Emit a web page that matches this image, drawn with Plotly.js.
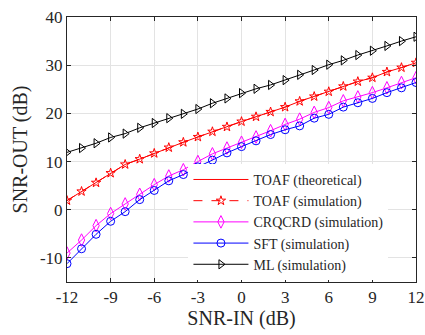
<!DOCTYPE html>
<html>
<head>
<meta charset="utf-8">
<script src="https://cdn.plot.ly/plotly-3.0.1.min.js"></script>
<style>html,body{margin:0;padding:0;background:#fff;}#chart{width:425px;height:335px;}</style>
</head>
<body>
<div id="chart"></div>
<script>
const snrIn = [-12,-11,-10,-9,-8,-7,-6,-5,-4,-3,-2,-1,0,1,2,3,4,5,6,7,8,9,10,11,12];
const toafTheoretical = [1.9,3.8,5.6,7.6,9.4,10.5,11.7,12.9,14.0,15.1,16.2,17.2,18.3,19.3,20.3,21.3,22.5,23.5,24.5,25.6,26.6,27.4,28.6,29.5,30.5];
const toafSimulation = [1.9,3.8,5.6,7.6,9.4,10.5,11.7,12.9,14.0,15.1,16.2,17.2,18.3,19.3,20.3,21.3,22.5,23.5,24.5,25.6,26.6,27.4,28.6,29.5,30.5];
const crqcrd = [-9.0,-6.3,-3.3,-0.8,1.2,3.2,5.2,7.0,8.3,10.0,11.6,12.8,14.0,15.1,16.4,17.7,18.8,20.2,21.2,22.6,23.4,24.3,25.3,26.4,27.4];
const sft = [-11.2,-8.1,-5.1,-2.4,-0.4,2.1,4.0,6.0,7.3,8.9,10.3,11.8,13.1,14.3,15.6,16.6,17.4,19.0,19.8,21.3,22.2,23.1,24.3,25.3,26.4];
const ml = [11.9,12.8,13.8,15.0,15.8,17.0,18.0,19.0,19.9,20.9,22.1,23.1,24.2,25.1,25.9,26.9,28.0,29.0,30.1,31.0,32.1,33.0,34.0,35.0,35.9];
const seriesNames = ['TOAF (theoretical)','TOAF (simulation)','CRQCRD (simulation)','SFT (simulation)','ML (simulation)'];
const xTicks = [-12,-9,-6,-3,0,3,6,9,12];
const yTicks = [-10,0,10,20,30,40];

const traces = [
  {x: snrIn, y: toafTheoretical, name: seriesNames[0], mode: 'lines',
   line: {color: '#ff0000', width: 1}},
  {x: snrIn, y: toafSimulation, name: seriesNames[1], mode: 'lines+markers',
   line: {color: '#ff0000', width: 1, dash: 'dash'},
   marker: {symbol: 'star-open', size: 7, color: '#ff0000', line: {width: 1, color: '#ff0000'}}},
  {x: snrIn, y: crqcrd, name: seriesNames[2], mode: 'lines+markers',
   line: {color: '#ff00ff', width: 1},
   marker: {symbol: 'diamond-tall-open', size: 9, color: '#ff00ff', line: {width: 1, color: '#ff00ff'}}},
  {x: snrIn, y: sft, name: seriesNames[3], mode: 'lines+markers',
   line: {color: '#0000ff', width: 1},
   marker: {symbol: 'circle-open', size: 8, color: '#0000ff', line: {width: 1, color: '#0000ff'}}},
  {x: snrIn, y: ml, name: seriesNames[4], mode: 'lines+markers',
   line: {color: '#000000', width: 1},
   marker: {symbol: 'triangle-right-open', size: 8, color: '#000000', line: {width: 1, color: '#000000'}}}
];

const fam = 'Liberation Serif';
const layout = {
  width: 425, height: 335,
  margin: {l: 67, r: 9, t: 17, b: 53},
  paper_bgcolor: '#ffffff', plot_bgcolor: '#ffffff',
  font: {family: fam, size: 15, color: '#262626'},
  showlegend: true,
  legend: {
    x: 0.348, y: 0.008, xanchor: 'left', yanchor: 'bottom',
    bgcolor: '#ffffff', borderwidth: 0,
    font: {family: fam, size: 14, color: '#262626'},
    tracegroupgap: 0, itemwidth: 55,
    traceorder: 'normal'
  },
  xaxis: {
    range: [-12, 12], tickvals: xTicks, ticktext: xTicks.map(String),
    title: {text: 'SNR-IN (dB)', font: {family: fam, size: 20, color: '#262626'}, standoff: 2},
    tickfont: {family: fam, size: 17, color: '#262626'},
    ticklabeloverflow: 'allow',
    showline: true, mirror: 'ticks', linecolor: '#262626', linewidth: 1,
    ticks: 'inside', ticklen: 4, tickcolor: '#262626',
    showgrid: true, gridcolor: '#e3e3e3', gridwidth: 1, zeroline: false
  },
  yaxis: {
    range: [-15, 40], tickvals: yTicks, ticktext: yTicks.map(String),
    title: {text: 'SNR-OUT (dB)', font: {family: fam, size: 20, color: '#262626'}, standoff: 6},
    tickfont: {family: fam, size: 17, color: '#262626'},
    ticklabeloverflow: 'allow',
    showline: true, mirror: 'ticks', linecolor: '#262626', linewidth: 1,
    ticks: 'inside', ticklen: 4, tickcolor: '#262626',
    showgrid: true, gridcolor: '#e3e3e3', gridwidth: 1, zeroline: false
  }
};

Plotly.newPlot('chart', traces, layout, {displayModeBar: false, staticPlot: true});
</script>
</body>
</html>
